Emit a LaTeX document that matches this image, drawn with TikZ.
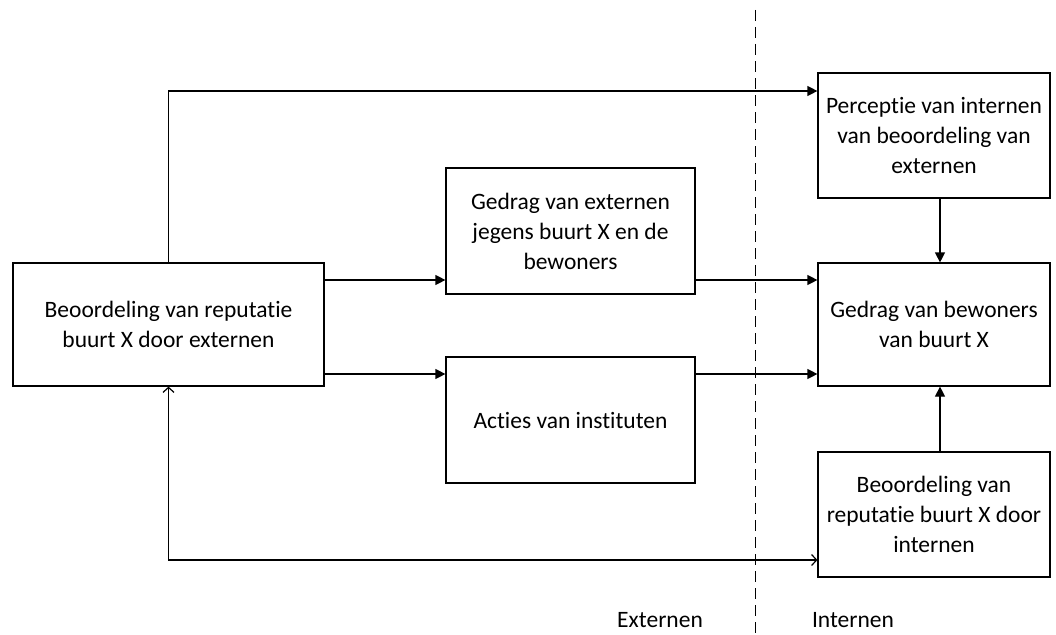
\documentclass[tikz,border=0pt]{standalone}
\usepackage{fontspec}
\setmainfont{Carlito}[Ligatures=NoCommon]
\usetikzlibrary{arrows.meta}
\begin{document}
\begin{tikzpicture}[x=1pt,y=1pt,
  box/.style={draw,line width=1.2pt,align=center,inner sep=2pt,font=\fontsize{23.5}{30}\selectfont},
  arr/.style={line width=1.2pt,-{Triangle[length=10pt,width=10pt]}},
  openboth/.style={line width=1.2pt,{Straight Barb[length=5pt,width=11pt]}-{Straight Barb[length=5pt,width=11pt]}},
  lbl/.style={inner sep=0pt,font=\fontsize{23.5}{30}\selectfont}]
\useasboundingbox (0,0) rectangle (1056,-634);
\node[box,minimum width=311pt,minimum height=123pt] (A) at (168.5,-324.5) {Beoordeling van reputatie\\buurt X door externen};
\node[box,minimum width=249pt,minimum height=126pt] (B) at (570.5,-231) {Gedrag van externen\\jegens buurt X en de\\bewoners};
\node[box,minimum width=249pt,minimum height=126pt] (C) at (570.5,-420) {Acties van instituten};
\node[box,minimum width=232pt,minimum height=125pt] (P) at (934,-135.5) {Perceptie van internen\\van beoordeling van\\externen};
\node[box,minimum width=232pt,minimum height=123pt] (G) at (934,-324.5) {Gedrag van bewoners\\van buurt X};
\node[box,minimum width=232pt,minimum height=125pt] (I) at (934,-514.5) {Beoordeling van\\reputatie buurt X door\\internen};
\coordinate (ptop) at ([yshift=44.5pt]P.west);
\coordinate (a1) at ([yshift=44.5pt]A.east);
\coordinate (a2) at ([yshift=-49.5pt]A.east);
\coordinate (b1) at (B.east |- a1);
\coordinate (c1) at (C.east |- a2);
\coordinate (i1) at ([yshift=-45.5pt]I.west);
\draw[arr] (A.north) |- (ptop);
\draw[arr] (a1) -- (a1 -| B.west);
\draw[arr] (a2) -- (a2 -| C.west);
\draw[arr] (b1) -- (b1 -| G.west);
\draw[arr] (c1) -- (c1 -| G.west);
\draw[arr] ([xshift=6pt]P.south) -- ([xshift=6pt]G.north);
\draw[arr] ([xshift=6pt]I.north) -- ([xshift=6pt]G.south);
\draw[openboth] (A.south) |- (i1);
\coordinate (dtop) at (755,-10);
\coordinate (dbot) at (755,-634);
\draw[line width=1pt,dash pattern=on 11pt off 6pt] (dtop) -- (dbot);
\node[lbl] (ext) at (660,-620) {Externen};
\node[lbl] (int) at (853,-620) {Internen};
\end{tikzpicture}
\end{document}
